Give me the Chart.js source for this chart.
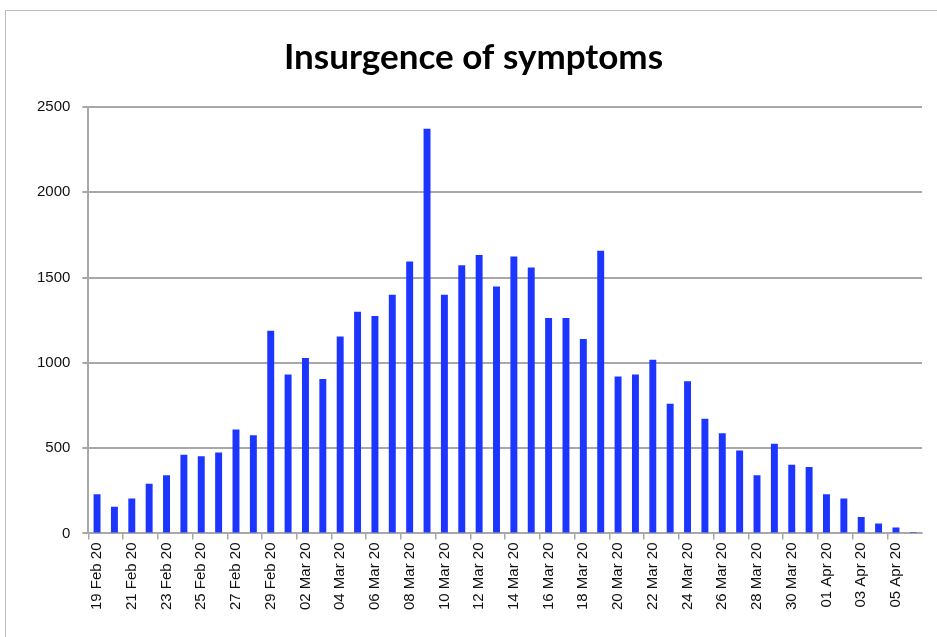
<!DOCTYPE html>
<html>
<head>
<meta charset="utf-8">
<script src="https://cdn.jsdelivr.net/npm/chart.js@4"></script>
<style>
  html, body { margin: 0; padding: 0; background: #fff; }
  #frame { position: absolute; left: 5px; top: 10px; width: 960px; height: 660px; border: 1px solid #bdbdbd; }
  #wrap { position: absolute; left: 0; top: 0; width: 937px; height: 637px; }
</style>
</head>
<body>
<div id="frame"></div>
<div id="wrap"><canvas id="symptomsChart" width="937" height="637"></canvas></div>
<script>
// one bar per day, 19 Feb 20 .. 06 Apr 20
const days = [
  '19 Feb 20', '20 Feb 20', '21 Feb 20', '22 Feb 20', '23 Feb 20', '24 Feb 20',
  '25 Feb 20', '26 Feb 20', '27 Feb 20', '28 Feb 20', '29 Feb 20',
  '01 Mar 20', '02 Mar 20', '03 Mar 20', '04 Mar 20', '05 Mar 20', '06 Mar 20',
  '07 Mar 20', '08 Mar 20', '09 Mar 20', '10 Mar 20', '11 Mar 20', '12 Mar 20',
  '13 Mar 20', '14 Mar 20', '15 Mar 20', '16 Mar 20', '17 Mar 20', '18 Mar 20',
  '19 Mar 20', '20 Mar 20', '21 Mar 20', '22 Mar 20', '23 Mar 20', '24 Mar 20',
  '25 Mar 20', '26 Mar 20', '27 Mar 20', '28 Mar 20', '29 Mar 20', '30 Mar 20',
  '31 Mar 20', '01 Apr 20', '02 Apr 20', '03 Apr 20', '04 Apr 20', '05 Apr 20',
  '06 Apr 20'
];

const cases = [
  230, 156, 205, 292, 341, 462, 452, 475, 610, 575, 1189,
  932, 1029, 906, 1154, 1300, 1275, 1400, 1594, 2372, 1400, 1573,
  1633, 1448, 1624, 1559, 1263, 1263, 1140, 1657, 920, 932,
  1018, 760, 892, 672, 588, 487, 341, 526, 403, 390,
  230, 205, 97, 58, 35, 8
];

const yTicks = [0, 500, 1000, 1500, 2000, 2500];

const ctx = document.getElementById('symptomsChart').getContext('2d');

new Chart(ctx, {
  type: 'bar',
  data: {
    labels: days,
    datasets: [{
      label: 'Symptoms',
      data: cases,
      backgroundColor: '#1c36ff',
      borderWidth: 0,
      barPercentage: 0.4,
      categoryPercentage: 1.0
    }]
  },
  options: {
    responsive: false,
    animation: false,
    layout: { padding: { left: 25, right: 15, top: 8, bottom: 24 } },
    plugins: {
      legend: { display: false },
      tooltip: { enabled: false },
      title: {
        display: true,
        text: 'Insurgence of symptoms',
        color: '#000',
        font: { family: 'Lato', size: 35, weight: 'bold' },
        padding: { top: 29, bottom: 28 }
      }
    },
    scales: {
      x: {
        offset: true,
        grid: {
          offset: true,
          drawOnChartArea: false,
          tickLength: 6,
          color: c => (c.index % 2 === 0 ? '#a8a8a8' : 'rgba(0,0,0,0)'),
          lineWidth: 1.5
        },
        border: { color: '#a8a8a8', width: 2 },
        ticks: {
          autoSkip: false,
          minRotation: 90,
          maxRotation: 90,
          color: '#111',
          font: { family: 'Liberation Sans', size: 15 },
          callback: function (val, i) { return i % 2 === 0 ? this.getLabelForValue(val) : ''; }
        }
      },
      y: {
        min: yTicks[0],
        max: yTicks[yTicks.length - 1],
        afterBuildTicks: axis => { axis.ticks = yTicks.map(v => ({ value: v })); },
        grid: { color: '#a8a8a8', lineWidth: 2, tickLength: 6 },
        border: { color: '#a8a8a8', width: 2 },
        ticks: {
          color: '#111',
          padding: 12,
          font: { family: 'Liberation Sans', size: 15 },
          callback: v => String(v)
        }
      }
    }
  }
});
</script>
</body>
</html>
